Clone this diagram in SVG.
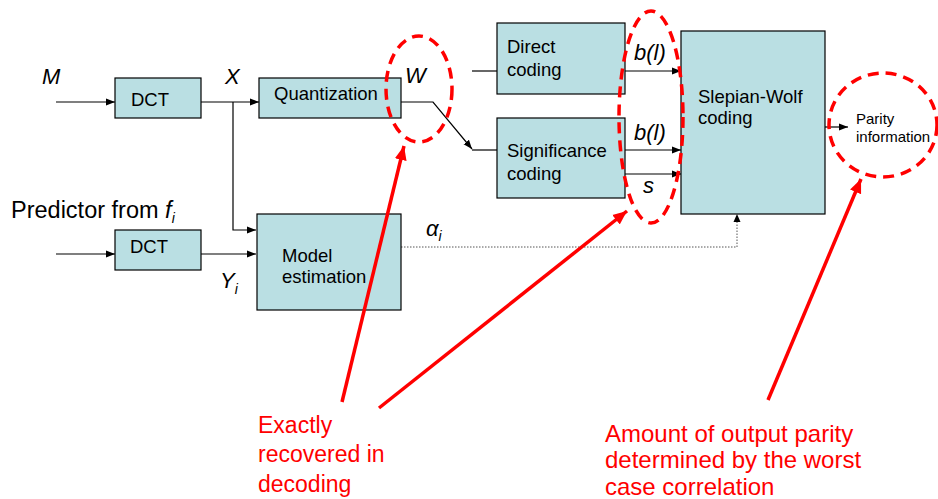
<svg xmlns="http://www.w3.org/2000/svg" width="938" height="499" viewBox="0 0 938 499">
<defs>
<style>
.box{fill:#BADFE3;stroke:#000;stroke-width:1.2}
.t{font-family:"Liberation Sans",Arial,sans-serif;font-size:18.5px;fill:#000}
.lbl{font-family:"Liberation Sans",Arial,sans-serif;font-size:22px;font-style:italic;fill:#000}
.sub{font-size:14px}
.ln{fill:none;stroke:#000;stroke-width:1.2}
.dot{fill:none;stroke:#555;stroke-width:1;stroke-dasharray:1.5,1.5}
.rd{fill:none;stroke:#FF0000;stroke-width:3.5;stroke-dasharray:11,7}
.ra{fill:none;stroke:#FF0000;stroke-width:3.5}
.rt{font-family:"Liberation Sans",Arial,sans-serif;font-size:23px;fill:#FF0000}
.rt2{font-family:"Liberation Sans",Arial,sans-serif;font-size:24px;fill:#FF0000}
</style>
<marker id="ah" markerUnits="userSpaceOnUse" markerWidth="10" markerHeight="10" refX="9" refY="5" orient="auto">
<path d="M0,1.5 L9,5 L0,8.5 Z" fill="#000"/>
</marker>
<marker id="rah" markerUnits="userSpaceOnUse" markerWidth="16" markerHeight="14" refX="14" refY="7" orient="auto">
<path d="M0,1 L14,7 L0,13 Z" fill="#FF0000"/>
</marker>
</defs>

<g id="connectors">
<line class="ln" x1="56" y1="102" x2="115" y2="102" marker-end="url(#ah)"/>
<line class="ln" x1="201" y1="102" x2="259" y2="102" marker-end="url(#ah)"/>
<polyline class="ln" points="233,102 233,230 256,230" marker-end="url(#ah)"/>
<line class="ln" x1="56" y1="254" x2="115" y2="254" marker-end="url(#ah)"/>
<line class="ln" x1="201" y1="254" x2="256" y2="254" marker-end="url(#ah)"/>
<polyline class="ln" points="401,102 433,102 472,149" marker-end="url(#ah)"/>
<line class="ln" x1="472" y1="150" x2="497" y2="150"/>
<line class="ln" x1="472" y1="71" x2="497" y2="71"/>
<line class="ln" x1="625" y1="71" x2="681" y2="71" marker-end="url(#ah)"/>
<line class="ln" x1="625" y1="150" x2="681" y2="150" marker-end="url(#ah)"/>
<line class="ln" x1="625" y1="174" x2="681" y2="174" marker-end="url(#ah)"/>
<line class="ln" x1="825" y1="127" x2="848" y2="127" marker-end="url(#ah)"/>
<polyline class="dot" points="401,247 737,247 737,216"/>
<path d="M733.5,222 L737,214 L740.5,222 Z" fill="#000"/>
</g>

<g id="dct1"><rect class="box" x="115" y="78" width="86" height="40"/><text class="t" x="131" y="106">DCT</text></g>
<g id="dct2"><rect class="box" x="115" y="230" width="86" height="40"/><text class="t" x="130" y="253">DCT</text></g>
<g id="quantization"><rect class="box" x="259" y="78" width="142" height="40"/><text class="t" x="274" y="100">Quantization</text></g>
<g id="model"><rect class="box" x="257" y="214" width="144" height="96"/><text class="t" x="282" y="262">Model</text><text class="t" x="282" y="283">estimation</text></g>
<g id="direct"><rect class="box" x="497" y="23" width="128" height="71"/><text class="t" x="507" y="53">Direct</text><text class="t" x="507" y="76">coding</text></g>
<g id="significance"><rect class="box" x="497" y="118" width="128" height="80"/><text class="t" x="507" y="157">Significance</text><text class="t" x="507" y="180">coding</text></g>
<g id="slepian"><rect class="box" x="681" y="31" width="144" height="183"/><text class="t" x="698" y="103">Slepian-Wolf</text><text class="t" x="698" y="124">coding</text></g>
<g id="parity"><text class="t" x="856" y="124" style="font-size:15px">Parity</text><text class="t" x="856" y="142" style="font-size:15px">information</text></g>

<g id="labels">
<text class="lbl" x="42" y="84">M</text>
<text class="lbl" x="225" y="84">X</text>
<text class="lbl" x="405" y="83">W</text>
<text class="t" x="11" y="218" style="font-size:23.5px">Predictor from <tspan font-style="italic">f</tspan><tspan font-style="italic" class="sub" dy="5">i</tspan></text>
<text class="lbl" x="220" y="288">Y<tspan class="sub" dy="6">i</tspan></text>
<text class="lbl" x="426" y="236">α<tspan class="sub" dy="5">i</tspan></text>
<text class="lbl" x="634" y="60">b(l)</text>
<text class="lbl" x="634" y="140">b(l)</text>
<text class="lbl" x="643" y="193">s</text>
</g>

<g id="annotations">
<ellipse class="rd" cx="419" cy="89" rx="33" ry="53"/>
<ellipse class="rd" cx="651" cy="117" rx="32" ry="106"/>
<ellipse class="rd" cx="883" cy="125" rx="54" ry="52"/>
<line class="ra" x1="342" y1="402" x2="404" y2="146" marker-end="url(#rah)"/>
<line class="ra" x1="379" y1="408" x2="627" y2="211" marker-end="url(#rah)"/>
<line class="ra" x1="768" y1="400" x2="861" y2="179" marker-end="url(#rah)"/>
<text class="rt" x="258" y="433">Exactly</text>
<text class="rt" x="258" y="462">recovered in</text>
<text class="rt" x="258" y="492">decoding</text>
<text class="rt2" x="605" y="442">Amount of output parity</text>
<text class="rt2" x="605" y="468">determined by the worst</text>
<text class="rt2" x="605" y="495">case correlation</text>
</g>
</svg>
